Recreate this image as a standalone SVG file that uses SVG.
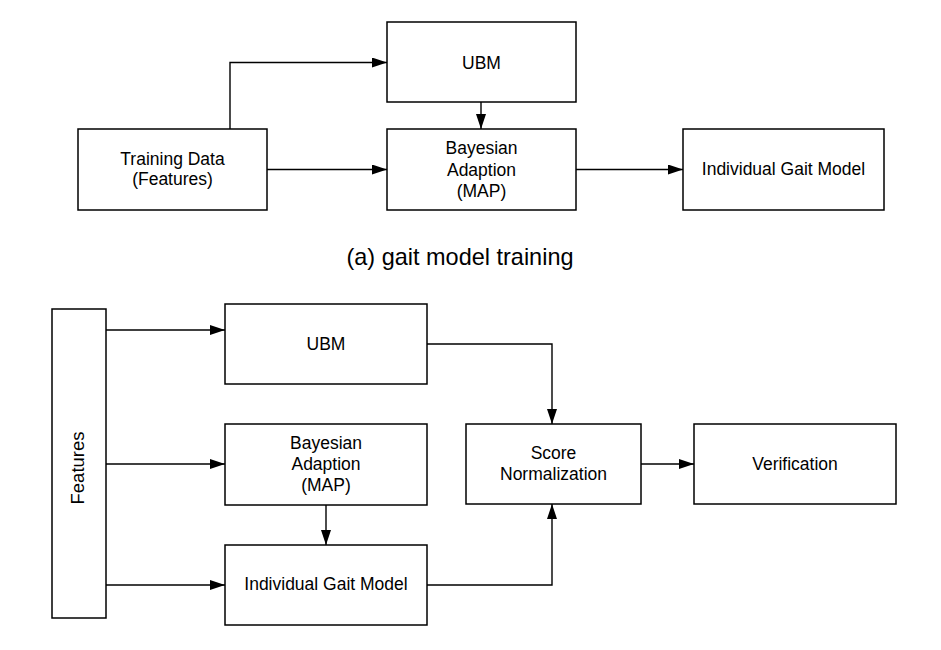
<svg xmlns="http://www.w3.org/2000/svg" width="941" height="650" viewBox="0 0 941 650">
<defs>
<marker id="ah" markerUnits="userSpaceOnUse" markerWidth="15" markerHeight="10" refX="15" refY="5" orient="auto">
<path d="M0,0 L15,5 L0,10 z" fill="#000"/>
</marker>
<style>
rect{fill:#fff;stroke:#000;stroke-width:1.5}
text{font-family:"Liberation Sans",Arial,sans-serif;font-size:17.5px;fill:#000;text-anchor:middle}
.c path{fill:none;stroke:#000;stroke-width:1.4;marker-end:url(#ah)}
</style>
</defs>
<rect x="0" y="0" width="941" height="650" style="stroke:none"/>
<g class="c" id="connectors">
<path d="M230,129 V62.5 H387"/>
<path d="M267,169.5 H387"/>
<path d="M481,102 V129"/>
<path d="M576,169.5 H683"/>
<path d="M104,330 H225"/>
<path d="M104,464 H225"/>
<path d="M104,585 H225"/>
<path d="M326,505 V545"/>
<path d="M427,344 H552 V424"/>
<path d="M427,585 H552 V504"/>
<path d="M641,464 H694"/>
</g>
<g id="a-training">
<rect x="78" y="129" width="189" height="81"/>
<text x="172.5" y="165">Training Data</text>
<text x="172.5" y="185">(Features)</text>
</g>
<g id="a-ubm">
<rect x="387" y="22" width="189" height="80"/>
<text x="481.5" y="68.5">UBM</text>
</g>
<g id="a-bayes">
<rect x="387" y="129" width="189" height="81"/>
<text x="481.5" y="154">Bayesian</text>
<text x="481.5" y="175.5">Adaption</text>
<text x="481.5" y="197">(MAP)</text>
</g>
<g id="a-igm">
<rect x="683" y="129" width="201" height="81"/>
<text x="783.5" y="175">Individual Gait Model</text>
</g>
<g id="caption">
<text x="460" y="265" style="font-size:24px" textLength="227" lengthAdjust="spacingAndGlyphs">(a) gait model training</text>
</g>
<g id="b-features">
<rect x="52" y="309" width="54" height="309"/>
<text transform="translate(84,468) rotate(-90)" x="0" y="0" style="font-size:18.5px">Features</text>
</g>
<g id="b-ubm">
<rect x="225" y="304" width="202" height="80"/>
<text x="326" y="349.5">UBM</text>
</g>
<g id="b-bayes">
<rect x="225" y="424" width="202" height="81"/>
<text x="326" y="449">Bayesian</text>
<text x="326" y="470">Adaption</text>
<text x="326" y="491">(MAP)</text>
</g>
<g id="b-igm">
<rect x="225" y="545" width="202" height="80"/>
<text x="326" y="590">Individual Gait Model</text>
</g>
<g id="b-score">
<rect x="466" y="424" width="175" height="80"/>
<text x="553.5" y="459">Score</text>
<text x="553.5" y="480">Normalization</text>
</g>
<g id="b-verif">
<rect x="694" y="424" width="202" height="80"/>
<text x="795" y="469.5">Verification</text>
</g>
</svg>
